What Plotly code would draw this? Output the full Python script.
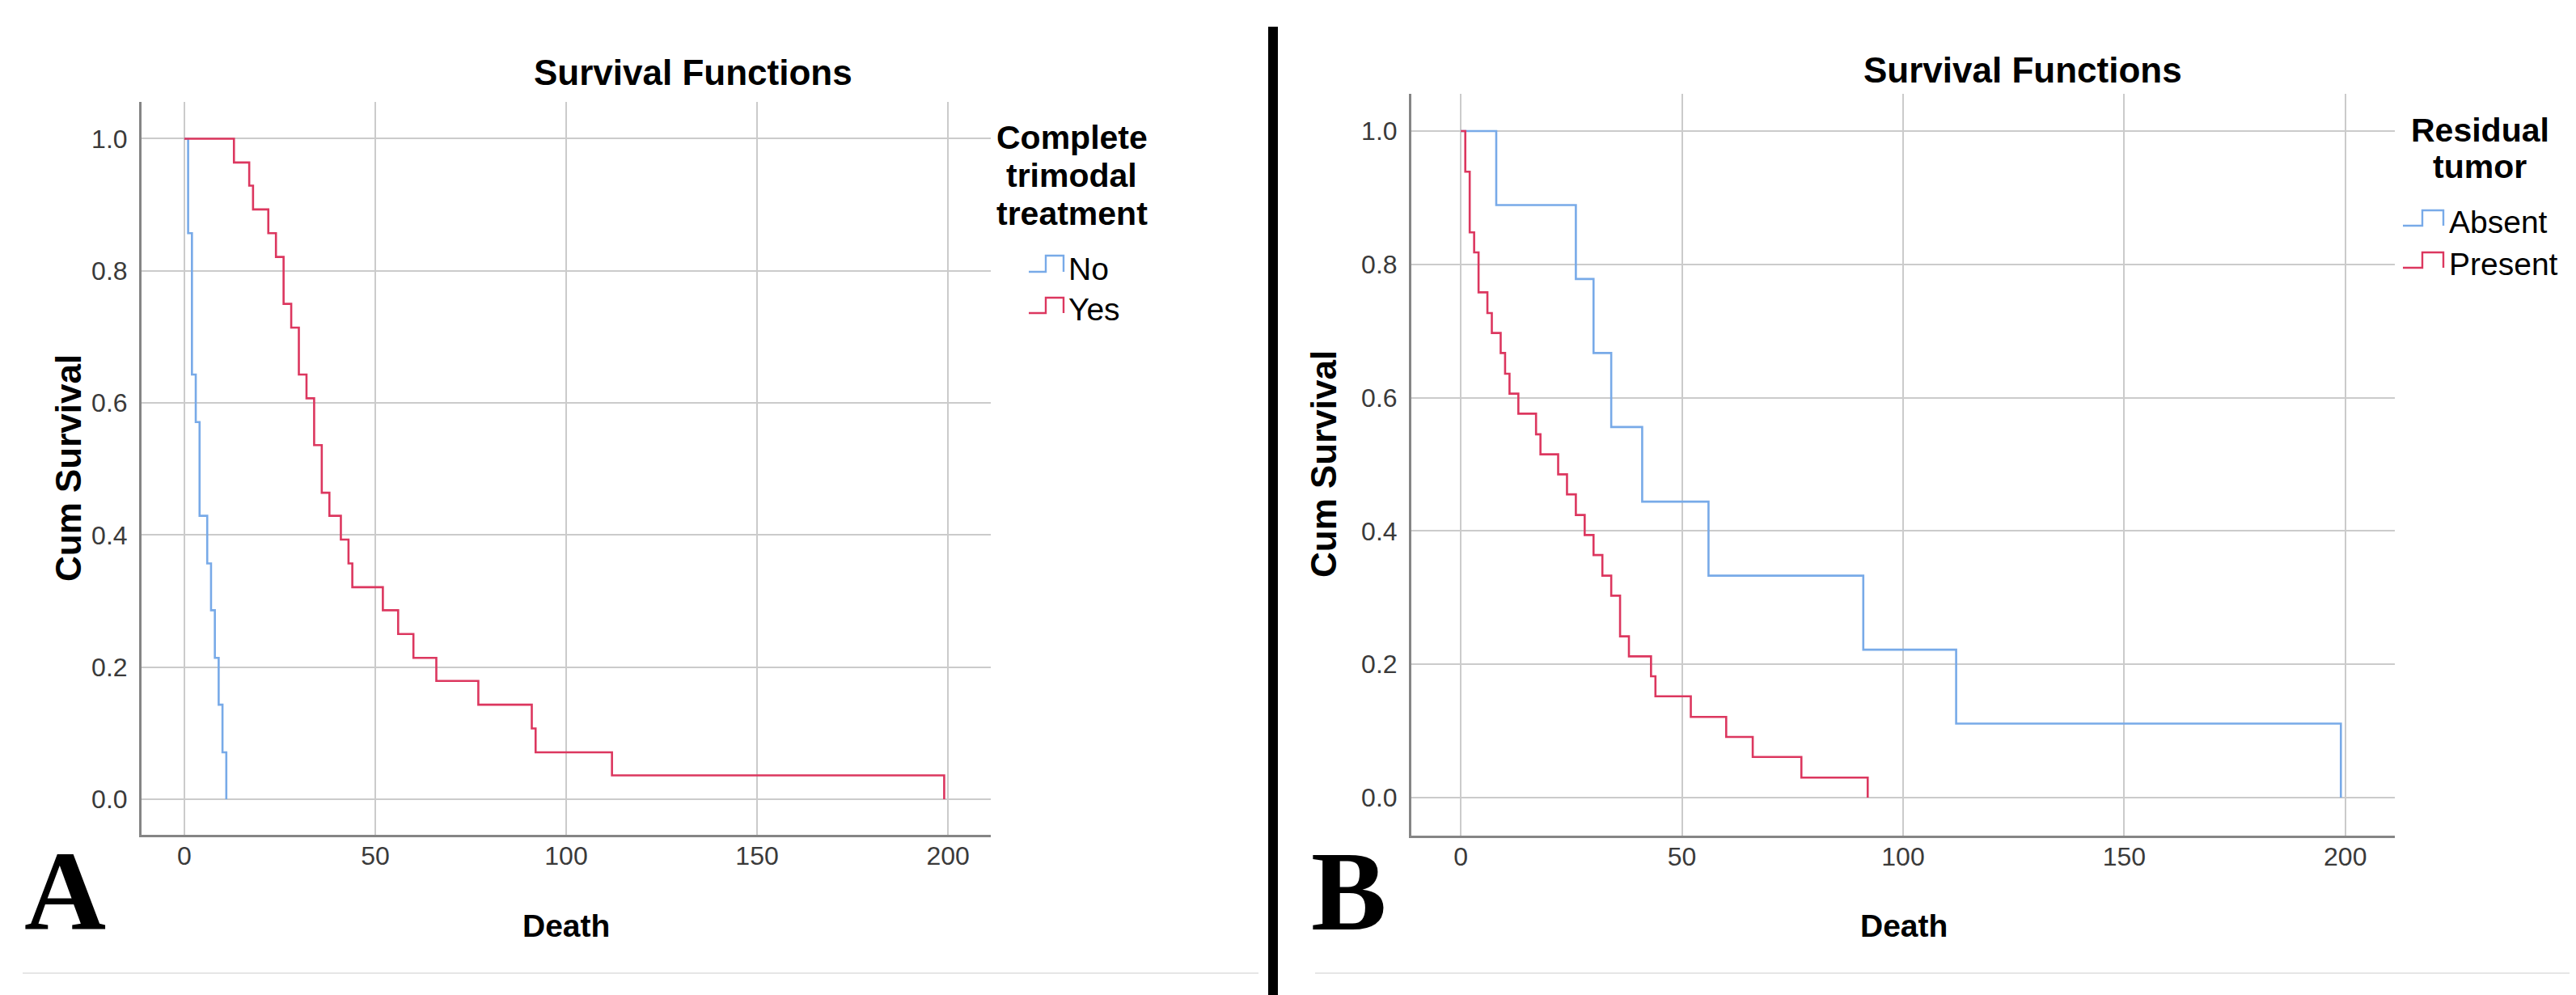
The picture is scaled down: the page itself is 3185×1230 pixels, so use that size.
import plotly.graph_objects as go

W, H = 3185, 1230

# ---------------- data ----------------
# Panel A: Complete trimodal treatment
a_no_time = [0, 1, 2, 3, 4, 6, 7, 8, 9, 10, 11]
a_no_surv = [1.0, 0.857, 0.643, 0.571, 0.429, 0.357, 0.286, 0.214, 0.143, 0.071, 0.0]
a_yes_time = [0, 13, 17, 18, 22, 24, 26, 28, 30, 32, 34, 36, 38, 41, 43, 44, 52, 56, 60, 66, 77, 91, 92, 112, 199]
a_yes_surv = [1.0, 0.964, 0.929, 0.893, 0.857, 0.821, 0.750, 0.714, 0.643, 0.607, 0.536, 0.464, 0.429,
              0.393, 0.357, 0.321, 0.286, 0.250, 0.214, 0.179, 0.143, 0.107, 0.071, 0.036, 0.0]
# Panel B: Residual tumor
b_abs_time = [0, 8, 26, 30, 34, 41, 56, 91, 112, 199]
b_abs_surv = [1.0, 0.889, 0.778, 0.667, 0.556, 0.444, 0.333, 0.222, 0.111, 0.0]
b_pre_time = [0, 1, 2, 3, 4, 6, 7, 9, 10, 11, 13, 17, 18, 22, 24, 26, 28, 30, 32, 34, 36, 38, 43, 44, 52, 60, 66, 77, 92]
b_pre_surv = [1.0, 0.939, 0.848, 0.818, 0.758, 0.727, 0.697, 0.667, 0.636, 0.606, 0.576, 0.545, 0.515, 0.485,
              0.455, 0.424, 0.394, 0.364, 0.333, 0.303, 0.242, 0.212, 0.182, 0.152, 0.121, 0.091, 0.061, 0.030, 0.0]

x_ticks = [0, 50, 100, 150, 200]
y_ticks = [0.0, 0.2, 0.4, 0.6, 0.8, 1.0]
y_ticktext = ["0.0", "0.2", "0.4", "0.6", "0.8", "1.0"]

title_text = "Survival Functions"
x_title = "Death"
y_title = "Cum Survival"
a_legend_title = ["Complete", "trimodal", "treatment"]
a_legend_items = ["No", "Yes"]
b_legend_title = ["Residual", "tumor"]
b_legend_items = ["Absent", "Present"]

# ---------------- style ----------------
BLUE = "#78AAE8"
RED = "#DC375F"
GRID = "#CBCBCB"
AXIS = "#858585"
FONT = "Liberation Sans, Arial, sans-serif"
SERIF = "Liberation Serif, Times New Roman, serif"


def px(x):
    return x / W


def py(y):
    return 1 - y / H


fig = go.Figure()
line_w = 2.6
fig.add_trace(go.Scatter(x=a_no_time, y=a_no_surv, mode="lines", line=dict(color=BLUE, width=line_w, shape="hv"),
                         xaxis="x", yaxis="y", showlegend=False, hoverinfo="skip"))
fig.add_trace(go.Scatter(x=a_yes_time, y=a_yes_surv, mode="lines", line=dict(color=RED, width=line_w, shape="hv"),
                         xaxis="x", yaxis="y", showlegend=False, hoverinfo="skip"))
fig.add_trace(go.Scatter(x=b_abs_time, y=b_abs_surv, mode="lines", line=dict(color=BLUE, width=line_w, shape="hv"),
                         xaxis="x2", yaxis="y2", showlegend=False, hoverinfo="skip"))
fig.add_trace(go.Scatter(x=b_pre_time, y=b_pre_surv, mode="lines", line=dict(color=RED, width=line_w, shape="hv"),
                         xaxis="x2", yaxis="y2", showlegend=False, hoverinfo="skip"))

tickfont = dict(family=FONT, size=32, color="#3A3A3A")
xcommon = dict(showgrid=True, gridcolor=GRID, gridwidth=2, zeroline=False, showline=True, linecolor=AXIS,
               linewidth=3, ticks="", tickvals=x_ticks, ticklabelstandoff=-4,
               tickfont=tickfont, range=[-11.2, 211.2], fixedrange=True)
ycommon = dict(showgrid=True, gridcolor=GRID, gridwidth=2, zeroline=False, showline=True, linecolor=AXIS,
               linewidth=3, ticks="", tickvals=y_ticks, ticktext=y_ticktext, ticklabelstandoff=8,
               tickfont=tickfont, fixedrange=True)

fig.update_layout(
    width=W, height=H, margin=dict(l=0, r=0, t=0, b=0),
    paper_bgcolor="white", plot_bgcolor="white",
    xaxis=dict(domain=[px(167), px(1217)], anchor="y", **xcommon),
    yaxis=dict(domain=[py(1024), py(118)], anchor="x", range=[-0.054, 1.0557], **ycommon),
    xaxis2=dict(domain=[px(1737), px(2953)], anchor="y2", **xcommon),
    yaxis2=dict(domain=[py(1025), py(108)], anchor="x2", range=[-0.057, 1.0558], **ycommon),
)

ann = []


def text(x, y, s, size, family=FONT, bold=False, xanchor="center", angle=0, color="black"):
    ann.append(dict(x=px(x), y=py(y), xref="paper", yref="paper", text=("<b>%s</b>" % s) if bold else s,
                    showarrow=False, xanchor=xanchor, yanchor="middle", textangle=angle,
                    font=dict(family=family, size=size, color=color)))


# titles
text(849, 81, title_text, 44, bold=True)
text(2493, 79, title_text, 44, bold=True)
# axis titles
text(692, 1136, x_title, 39, bold=True)
text(2346, 1136, x_title, 39, bold=True)
text(76, 571, y_title, 44, bold=True, angle=-90)
text(1628, 566, y_title, 44, bold=True, angle=-90)
# legend A
for s, yy in zip(a_legend_title, [162, 209, 256]):
    text(1317, yy, s, 41, bold=True)
text(1311, 324, a_legend_items[0], 39, xanchor="left")
text(1311, 374, a_legend_items[1], 39, xanchor="left")
# legend B
for s, yy in zip(b_legend_title, [153, 198]):
    text(3058, yy, s, 41, bold=True)
text(3018, 267, b_legend_items[0], 39, xanchor="left")
text(3018, 318, b_legend_items[1], 39, xanchor="left")
# panel letters
text(20, 1093, "A", 140, family=SERIF, bold=True, xanchor="left")
text(1611, 1093, "B", 140, family=SERIF, bold=True, xanchor="left")

fig.update_layout(annotations=ann)

shapes = []


def step_icon(x0, xm, x1, ylo, yhi, color):
    path = "M %f,%f L %f,%f L %f,%f L %f,%f L %f,%f" % (
        px(x0), py(ylo), px(xm), py(ylo), px(xm), py(yhi), px(x1), py(yhi), px(x1), py(ylo))
    shapes.append(dict(type="path", path=path, xref="paper", yref="paper", line=dict(color=color, width=2.4)))


step_icon(1264, 1285, 1307, 328, 308, BLUE)
step_icon(1264, 1285, 1307, 379, 360, RED)
step_icon(2963, 2987, 3013, 271, 252, BLUE)
step_icon(2963, 2987, 3013, 323, 304, RED)

# divider and faint bottom borders
shapes.append(dict(type="rect", xref="paper", yref="paper", x0=px(1560), x1=px(1572), y0=py(1232), y1=py(25),
                   fillcolor="black", line=dict(width=0)))
shapes.append(dict(type="line", xref="paper", yref="paper", x0=px(20), x1=px(1548), y0=py(1195), y1=py(1195),
                   line=dict(color="#E6E6E6", width=2)))
shapes.append(dict(type="line", xref="paper", yref="paper", x0=px(1618), x1=px(3185), y0=py(1195), y1=py(1195),
                   line=dict(color="#E6E6E6", width=2)))
fig.update_layout(shapes=shapes)

fig.write_html("out.html")
